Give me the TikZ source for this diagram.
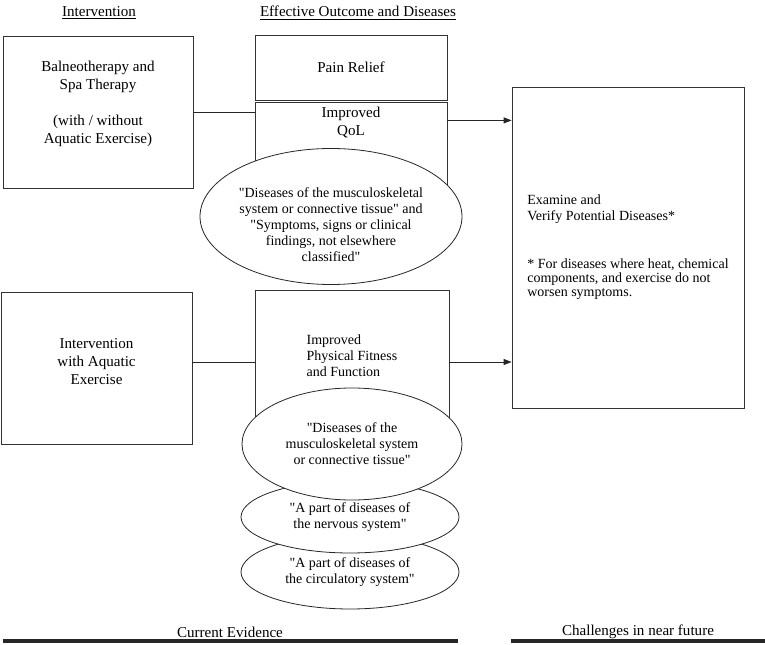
\documentclass[tikz,border=0pt]{standalone}
\usepackage{fontspec}
\setmainfont{Liberation Serif}[Ligatures=TeXOff]
\usepackage{tikz}
\usetikzlibrary{arrows.meta}
\usetikzlibrary{shapes.geometric}
\usetikzlibrary{positioning}

\begin{document}
\begin{tikzpicture}[x=0.75pt,y=-0.75pt,>={Triangle[length=6pt,width=4.5pt]},line width=0.6pt]
						\tikzstyle{box}=[draw=black!80, rectangle, inner sep=0pt, align=center, font=\fontsize{11.3}{13.5}\selectfont]
						\tikzstyle{oval}=[draw=black!85, ellipse, fill=white, inner sep=0pt, align=center, font=\fontsize{10.5}{12}\selectfont]
						\tikzstyle{btxt}=[align=center, inner sep=0pt, font=\fontsize{11.3}{13.5}\selectfont]
						\tikzstyle{stxt}=[inner sep=0pt, font=\fontsize{10.5}{12}\selectfont]
						\tikzstyle{head}=[inner sep=0pt, font=\fontsize{11.3}{13.5}\selectfont]
						\tikzstyle{rule}=[line width=2.4pt, black!85]
						\useasboundingbox (0,0) rectangle (765,645);
						% column heads
						\node[head] 			(hint) at (99,13)            {\underline{Intervention}};
						\node[head] 			(hout) at (358,13)           {\underline{Effective Outcome and Diseases}};
						% left column
						\node[box, minimum width=142.5pt, minimum height=114pt,
							label={[btxt, yshift=6pt]center:{Balneotherapy and\\Spa Therapy\\[13.5pt](with / without\\Aquatic Exercise)}}]
											(balneo) at (98,112)         {};
						\node[box, minimum width=143.25pt, minimum height=114pt,
							label={[btxt, yshift=5pt]center:{Intervention\\with Aquatic\\Exercise}}]
											(aqua) at (96.5,368)         {};
						% middle column
						\node[box, minimum width=144pt, minimum height=48.75pt]
											(pain) at (351,67.5)         {Pain Relief};
						\node[box, minimum width=144pt, minimum height=73.5pt,
							label={[btxt, anchor=north, yshift=-3.5pt]north:{Improved\\QoL}}]
											(qol) [below=1.5pt of pain]  {};
						\node[box, minimum width=145.5pt, minimum height=108pt,
							label={[stxt, align=left, yshift=5pt]center:{Improved\\Physical Fitness\\and Function}}]
											(phys) at (352,362)          {};
						\node[oval, minimum width=196.5pt, minimum height=102pt,
							label={[stxt, align=center, yshift=-6pt]center:{"Diseases of the musculoskeletal\\system or connective tissue" and\\"Symptoms, signs or clinical\\findings, not elsewhere\\classified"}}]
											(dis1) at (331,216.5)        {};
						\node[oval, minimum width=163.5pt, minimum height=55.5pt]
											(circ) at (350,572)          {"A part of diseases of\\the circulatory system"};
						\node[oval, minimum width=163.5pt, minimum height=54pt]
											(nerv) at (350,517)          {"A part of diseases of\\the nervous system"};
						\node[oval, minimum width=165pt, minimum height=84pt]
											(musc) at (352,444)          {"Diseases of the\\musculoskeletal system\\or connective tissue"};
						% right column
						\node[box, align=left, minimum width=174pt, minimum height=240.75pt, font=\fontsize{10.5}{12}\selectfont]
											(exam) at (628,247.5)        {Examine and\\Verify Potential Diseases*\\[24pt]* For diseases where heat, chemical\\[-1.5pt]components, and exercise do not\\[-1.5pt]worsen symptoms.};
						% connectors
						\path (qol.north east) ++(0,18) coordinate (qolout);
						\draw[black!85] (balneo.east) -- (balneo.east -| qol.west);
						\draw[black!85, ->] (qolout) -- (qolout -| exam.west);
						\draw[black!85] (aqua.east |- phys.west) -- (phys.west);
						\draw[black!85, ->] (phys.east) -- (phys.east -| exam.west);
						% bottom rules
						\node[head] 			(cur) at (230,632)           {Current Evidence};
						\node[head] 			(chal) at (638,632)          {Challenges in near future};
						\draw[rule] (3,641) -- (458,641);
						\draw[rule] (511,641) -- (765,641);
\end{tikzpicture}
\end{document}
